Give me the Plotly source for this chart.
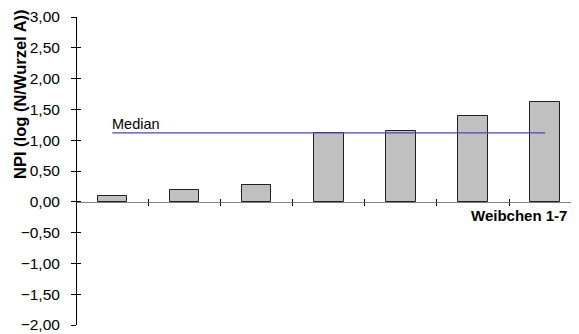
import plotly.graph_objects as go
import statistics

weibchen = [1, 2, 3, 4, 5, 6, 7]
npi = [0.10, 0.19, 0.28, 1.12, 1.15, 1.40, 1.62]
y_ticks = [-2.0, -1.5, -1.0, -0.5, 0.0, 0.5, 1.0, 1.5, 2.0, 2.5, 3.0]
x_title = "Weibchen 1-7"
y_title = "NPI (log (N/Wurzel A))"
median_label = "Median"

median_val = statistics.median(npi)
boundaries = [w + 0.5 for w in weibchen[:-1]]

FONT = "Liberation Sans, Arial, sans-serif"

fig = go.Figure()
fig.add_trace(go.Bar(
    x=weibchen, y=npi, width=0.41,
    marker=dict(color="#C0C0C0", line=dict(color="#202020", width=1)),
    showlegend=False, hoverinfo="skip",
))
fig.add_trace(go.Scatter(
    x=[weibchen[0], weibchen[-1]], y=[median_val, median_val],
    mode="lines", line=dict(color="#4B4BA0", width=1.3),
    showlegend=False, hoverinfo="skip",
))
# invisible helper so the overlay axes (crossing ticks) are drawn
fig.add_trace(go.Scatter(x=[weibchen[0]], y=[0], xaxis="x2", yaxis="y2",
                         mode="markers", marker=dict(opacity=0),
                         showlegend=False, hoverinfo="skip"))

yr = [y_ticks[0], y_ticks[-1]]
xr = [weibchen[0] - 0.49, weibchen[-1] + 0.47]
zero_pos = (0 - yr[0]) / (yr[1] - yr[0])

fig.update_layout(
    width=571, height=326,
    margin=dict(l=69, r=0, t=9, b=9),
    paper_bgcolor="white", plot_bgcolor="white",
    separators=",.",
    font=dict(family=FONT, size=15, color="black"),
    bargap=0,
    xaxis=dict(range=xr, anchor="free", position=zero_pos,
               showline=True, linecolor="#808080", linewidth=1,
               tickvals=boundaries, ticks="outside", ticklen=3,
               tickcolor="black", showticklabels=False,
               showgrid=False, zeroline=False),
    xaxis2=dict(range=xr, overlaying="x", anchor="free", position=zero_pos,
                showline=False, tickvals=boundaries, ticks="inside", ticklen=3,
                tickcolor="black", showticklabels=False,
                showgrid=False, zeroline=False),
    yaxis=dict(range=yr, tickvals=y_ticks, tickformat=".2f",
               showline=True, linecolor="black", linewidth=1,
               ticks="outside", ticklen=5, tickcolor="black",
               ticklabelstandoff=8,
               showgrid=False, zeroline=False,
               tickfont=dict(size=15.5)),
    yaxis2=dict(range=yr, overlaying="y", anchor="x2", side="left",
                tickvals=y_ticks, ticks="inside", ticklen=4, tickcolor="black",
                showticklabels=False, showline=False,
                showgrid=False, zeroline=False),
    annotations=[
        dict(text="<b>" + y_title + "</b>", xref="paper", yref="paper", x=0,
             xshift=-57, y=0.75, xanchor="center", yanchor="middle",
             textangle=-90, showarrow=False,
             font=dict(family=FONT, size=16.5, color="black")),
        dict(text="<b>" + x_title + "</b>", xref="paper", yref="y", x=1,
             xshift=-10, y=0, yshift=-3, xanchor="right", yanchor="top",
             showarrow=False, font=dict(family=FONT, size=15, color="black")),
        dict(text=median_label, xref="x", yref="y", x=weibchen[0],
             y=median_val, xanchor="left", yanchor="bottom", xshift=-2,
             yshift=-1, showarrow=False,
             font=dict(family=FONT, size=14.5, color="black")),
    ],
)

fig.write_html("out.html")
